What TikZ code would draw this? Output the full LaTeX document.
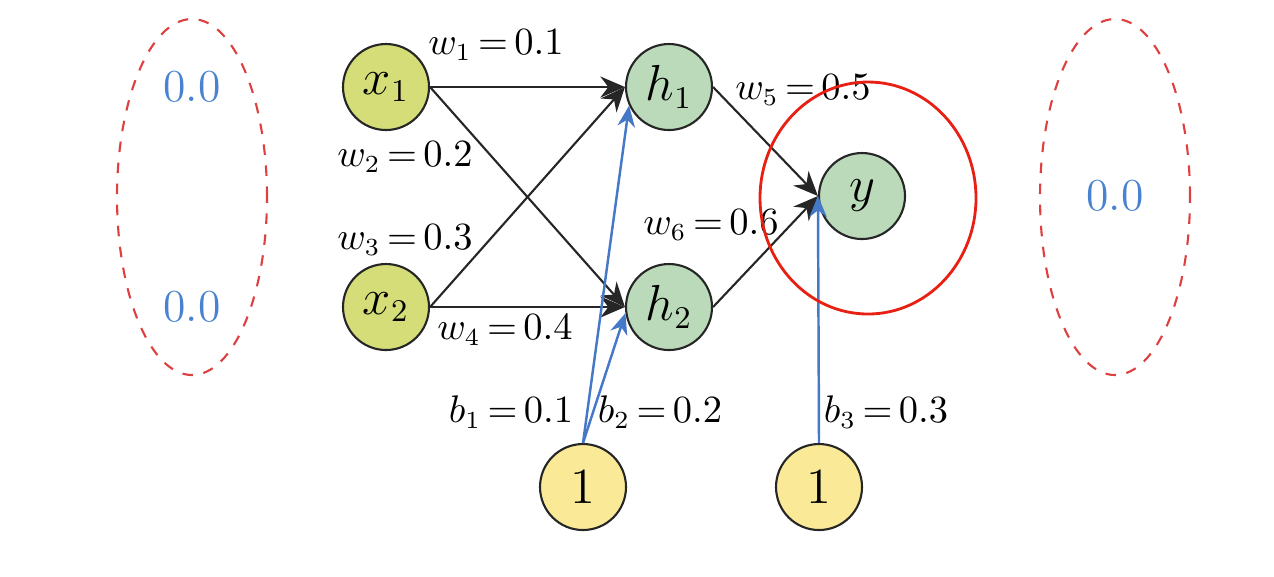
\documentclass[tikz,border=0pt]{standalone}
\usetikzlibrary{arrows.meta}
\definecolor{inputfill}{RGB}{212,221,120}
\definecolor{hiddenfill}{RGB}{186,218,186}
\definecolor{biasfill}{RGB}{250,234,152}
\definecolor{biasblue}{RGB}{70,120,200}
\definecolor{zeroblue}{RGB}{72,130,208}
\definecolor{dashred}{RGB}{222,64,64}
\definecolor{markred}{RGB}{232,32,20}
\begin{document}
\begin{tikzpicture}[
	neuron/.style={circle,draw=black!85,line width=0.6pt,minimum size=0.86cm,inner sep=0pt,font=\fontsize{13.5}{16}\selectfont},
	wlabel/.style={inner sep=0pt,font=\fontsize{10.5}{12}\selectfont},
	zero/.style={text=zeroblue,inner sep=0pt,font=\fontsize{13}{15}\selectfont},
	weight/.style={-{Stealth[length=7pt,width=6pt]},line width=0.6pt,black!85},
	bias/.style={-{Stealth[length=6pt,width=5pt]},line width=0.7pt,biasblue}
	]
	\useasboundingbox (0,0) rectangle (12.74,-5.76);
	% neurons
	\node[neuron,fill=inputfill] (x1) at (3.86,-0.87) {$x_1$};
	\node[neuron,fill=inputfill] (x2) at (3.86,-3.07) {$x_2$};
	\node[neuron,fill=hiddenfill] (h1) at (6.69,-0.87) {$h_1$};
	\node[neuron,fill=hiddenfill] (h2) at (6.69,-3.07) {$h_2$};
	\node[neuron,fill=hiddenfill] (y) at (8.62,-1.96) {$y$};
	\node[neuron,fill=biasfill] (one1) at (5.83,-4.87) {$1$};
	\node[neuron,fill=biasfill] (one2) at (8.19,-4.87) {$1$};
	% weights
	\draw[weight] (x1.east) -- (h1.west);
	\draw[weight] (x1.east) -- (h2.west);
	\draw[weight] (x2.east) -- (h1.west);
	\draw[weight] (x2.east) -- (h2.west);
	\draw[weight] (h1.east) -- (y.west);
	\draw[weight] (h2.east) -- (y.west);
	% biases
	\draw[bias] (one1.north) -- (h1.205);
	\draw[bias] (one1.north) -- (h2.188);
	\draw[bias] (one2.north) -- (y.west);
	% labels
	\node[wlabel] (lw1) at (4.96,-0.45) {$w_1{\,=\,}0.1$};
	\node[wlabel] (lw2) at (4.05,-1.57) {$w_2{\,=\,}0.2$};
	\node[wlabel] (lw3) at (4.05,-2.40) {$w_3{\,=\,}0.3$};
	\node[wlabel] (lw4) at (5.05,-3.30) {$w_4{\,=\,}0.4$};
	\node[wlabel] (lw5) at (8.03,-0.90) {$w_5{\,=\,}0.5$};
	\node[wlabel] (lw6) at (7.11,-2.25) {$w_6{\,=\,}0.6$};
	\node[wlabel] (lb1) at (5.11,-4.12) {$b_1{\,=\,}0.1$};
	\node[wlabel] (lb2) at (6.60,-4.12) {$b_2{\,=\,}0.2$};
	\node[wlabel] (lb3) at (8.86,-4.12) {$b_3{\,=\,}0.3$};
	% outputs
	\draw[dashred,dashed,line width=0.6pt] (1.92,-1.97) ellipse (0.75cm and 1.78cm);
	\draw[dashred,dashed,line width=0.6pt] (11.15,-1.97) ellipse (0.75cm and 1.78cm);
	\node[zero] (z1) at (1.92,-0.87) {0.0};
	\node[zero] (z2) at (1.92,-3.07) {0.0};
	\node[zero] (z3) at (11.15,-1.96) {0.0};
	\draw[markred,line width=0.8pt] (8.68,-1.98) ellipse (1.08cm and 1.16cm);
\end{tikzpicture}
\end{document}
